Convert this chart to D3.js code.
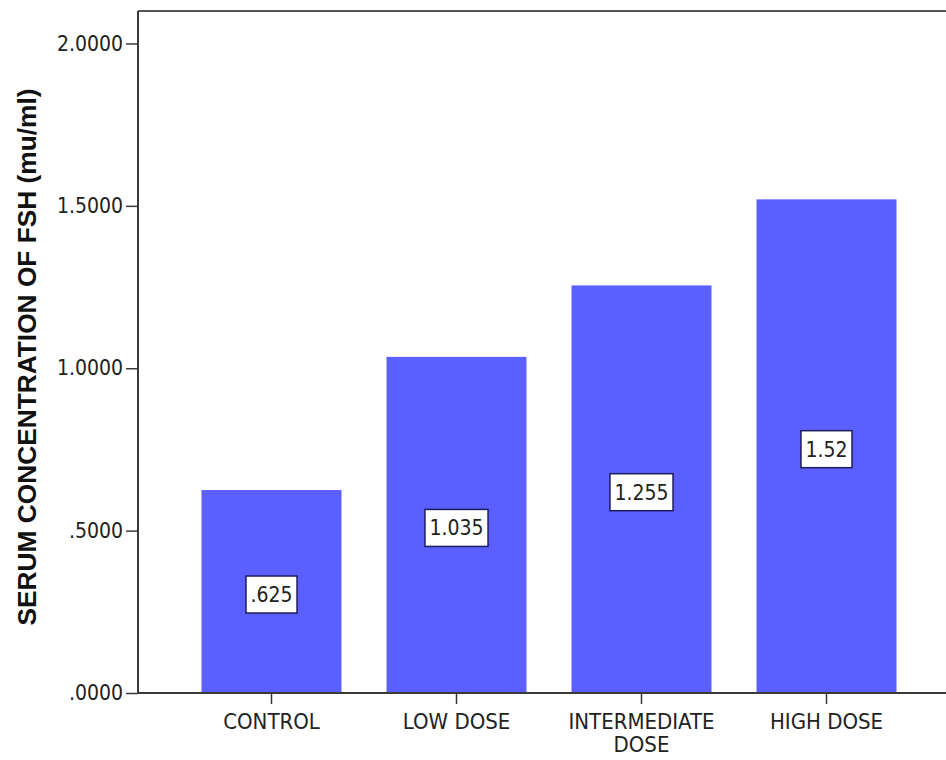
<!DOCTYPE html>
<html>
<head>
<meta charset="utf-8">
<script src="https://cdn.jsdelivr.net/npm/d3@7/dist/d3.min.js"></script>
<style>
  html, body { margin: 0; padding: 0; background: #fff; }
  svg { display: block; }
  .lbl { font-family: "DejaVu Sans Condensed", "DejaVu Sans", sans-serif; font-stretch: condensed; fill: #222; }
</style>
</head>
<body>
<svg id="chart" width="946" height="760"></svg>
<script>
// Mean serum FSH by treatment group
const categories = ["CONTROL", "LOW DOSE", "INTERMEDIATE DOSE", "HIGH DOSE"];
const values = [0.625, 1.035, 1.255, 1.52];
const valueLabels = [".625", "1.035", "1.255", "1.52"];
const yTickValues = [0, 0.5, 1.0, 1.5, 2.0];
const yTickLabels = [".0000", ".5000", "1.0000", "1.5000", "2.0000"];
const yTitle = "SERUM CONCENTRATION OF FSH (mu/ml)";

const W = 946, H = 760;
const plotLeft = 138, plotTop = 11, plotBottom = 693;
const barColor = "#5b5ffd";
const axisColor = "#3a3a3a";

const svg = d3.select("#chart");

const x = d3.scaleBand()
  .domain(categories)
  .range([179, 919])
  .paddingInner(45 / 185)
  .paddingOuter(45 / 370);

const y = d3.scaleLinear()
  .domain([0, 2.1])
  .range([plotBottom, plotTop]);

// bars
svg.append("g").selectAll("rect")
  .data(categories)
  .join("rect")
  .attr("x", d => x(d))
  .attr("y", (d, i) => y(values[i]))
  .attr("width", x.bandwidth())
  .attr("height", (d, i) => y(0) - y(values[i]))
  .attr("fill", barColor);

// frame: top edge
svg.append("line")
  .attr("x1", plotLeft).attr("x2", W).attr("y1", plotTop).attr("y2", plotTop)
  .attr("stroke", "#555").attr("stroke-width", 2);

// y axis
const yAxis = d3.axisLeft(y)
  .tickValues(yTickValues)
  .tickFormat((d, i) => yTickLabels[i])
  .tickSize(12)
  .tickSizeOuter(0)
  .tickPadding(3);

const gy = svg.append("g")
  .attr("transform", `translate(${plotLeft},0)`)
  .call(yAxis);
gy.select(".domain").attr("stroke", axisColor).attr("stroke-width", 2)
  .attr("d", `M0,${plotTop}V${plotBottom}`);
gy.selectAll(".tick line").attr("stroke", axisColor).attr("stroke-width", 1.5);
gy.selectAll(".tick text").attr("class", "lbl").style("font-size", "21px");

// x axis
const xAxis = d3.axisBottom(x).tickSize(11).tickSizeOuter(0).tickPadding(5);
const gx = svg.append("g")
  .attr("transform", `translate(0,${plotBottom})`)
  .call(xAxis);
gx.select(".domain").attr("stroke", axisColor).attr("stroke-width", 2)
  .attr("d", `M${plotLeft},0H${W}`);
gx.selectAll(".tick line").attr("stroke", axisColor).attr("stroke-width", 1.5);
gx.selectAll(".tick text")
  .attr("class", "lbl")
  .style("font-size", "22px")
  .attr("dy", null)
  .attr("y", 36)
  .each(function () {
    // wrap long category names onto extra lines
    const t = d3.select(this);
    const words = t.text().split(" ");
    const maxW = x.step() - 10;
    t.text(null);
    let line = [];
    let lineNo = 0;
    let tspan = t.append("tspan").attr("x", 0).attr("y", 36);
    words.forEach(w => {
      line.push(w);
      tspan.text(line.join(" "));
      if (tspan.node().getComputedTextLength() > maxW && line.length > 1) {
        line.pop();
        tspan.text(line.join(" "));
        line = [w];
        lineNo++;
        tspan = t.append("tspan").attr("x", 0).attr("y", 36 + lineNo * 23).text(w);
      }
    });
  });

// value labels in boxes at bar mid-height
const lblG = svg.append("g").selectAll("g")
  .data(categories)
  .join("g")
  .attr("transform", (d, i) => `translate(${x(d) + x.bandwidth() / 2},${(y(values[i]) + y(0)) / 2 + 3})`);

lblG.each(function (d, i) {
  const g = d3.select(this);
  const rect = g.append("rect");
  const txt = g.append("text")
    .attr("class", "lbl")
    .style("font-size", "21px")
    .attr("text-anchor", "middle")
    .attr("dy", "0.36em")
    .text(valueLabels[i]);
  const w = txt.node().getComputedTextLength() + 9;
  const h = 37;
  rect.attr("x", -w / 2).attr("y", -h / 2)
    .attr("width", w).attr("height", h)
    .attr("fill", "#fff")
    .attr("stroke", "#1c1c5e")
    .attr("stroke-width", 1.5);
});

// y axis title
svg.append("text")
  .attr("transform", `translate(35.5,${(87 + 627) / 2}) rotate(-90)`)
  .attr("text-anchor", "middle")
  .style("font-family", "'Liberation Sans', Arial, sans-serif")
  .style("font-weight", "bold")
  .style("font-size", "26.3px")
  .attr("fill", "#111")
  .text(yTitle);
</script>
</body>
</html>
